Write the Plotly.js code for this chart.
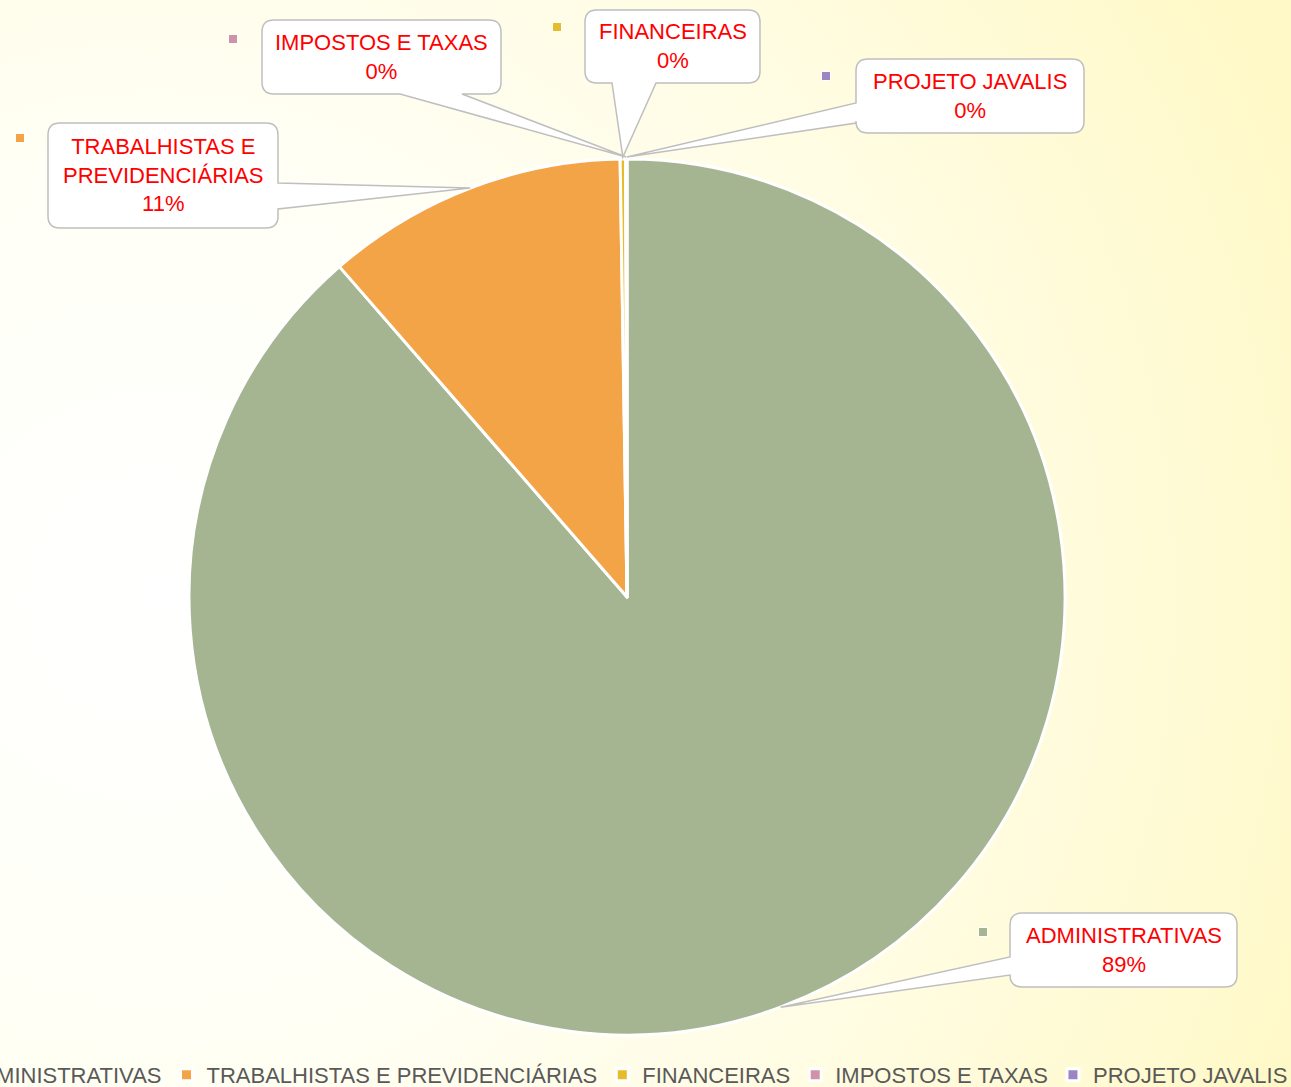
<!DOCTYPE html>
<html>
<head>
<meta charset="utf-8">
<script src="https://cdn.plot.ly/plotly-3.0.1.min.js"></script>
<style>
  html, body { margin:0; padding:0; }
  body {
    width:1291px; height:1087px; overflow:hidden; position:relative;
    background: radial-gradient(ellipse 95% 110% at 12% 55%, #ffffff 0%, #fffff6 35%, #fffce0 70%, #fff9c8 100%);
  }
  #chart { position:absolute; left:-100px; top:0; width:1491px; height:1087px; }
</style>
</head>
<body>
<div id="chart"></div>
<script>
// ---- data ----
const categories = ["ADMINISTRATIVAS", "TRABALHISTAS E PREVIDENCIÁRIAS", "FINANCEIRAS", "IMPOSTOS E TAXAS", "PROJETO JAVALIS"];
const labelText = ["ADMINISTRATIVAS", "TRABALHISTAS E<br>PREVIDENCIÁRIAS", "FINANCEIRAS", "IMPOSTOS E TAXAS", "PROJETO JAVALIS"];
const values = [88.6, 11.15, 0.2, 0.04, 0.01];
const colors = ["#A5B592", "#F3A447", "#E7BC29", "#D092A7", "#9C85C0"];

// ---- layout geometry (window pixels) ----
const OFF = 100;               // plot div extends 100px left of the window
const W = 1291 + 2 * OFF, H = 1087;
const cx = 627, cy = 597, R = 438;
const boxes = [
  {x0:1010, y0:913, x1:1237, y1:987, side:"left",   t1:957, t2:975, kx:983, ky:932, tipOut:0},
  {x0:48,   y0:123, x1:278,  y1:228, side:"right",  t1:183, t2:209, kx:20,  ky:138, tipOut:0},
  {x0:585,  y0:10,  x1:760,  y1:83,  side:"bottom", t1:612, t2:656, kx:557, ky:27,  tipOut:2},
  {x0:262,  y0:20,  x1:501,  y1:94,  side:"bottom", t1:400, t2:462, kx:233, ky:39,  tipOut:2},
  {x0:856,  y0:59,  x1:1084, y1:133, side:"left",   t1:103, t2:123, kx:826, ky:76,  tipOut:2}
];

const px = x => (x + OFF) / W;
const py = y => 1 - y / H;
const P = (x, y) => px(x).toFixed(5) + "," + py(y).toFixed(5);

const total = values.reduce((a, b) => a + b, 0);
let cum = 0;
const tips = values.map((v, i) => {
  const mid = (cum + v / 2) / total * 2 * Math.PI;
  cum += v;
  const r = R + boxes[i].tipOut;
  return [cx + r * Math.sin(mid), cy - r * Math.cos(mid)];
});

function bubblePath(b, tip) {
  const r = 12;
  const {x0, y0, x1, y1} = b;
  let d = "M" + P(x0 + r, y0) + " L" + P(x1 - r, y0) + " Q" + P(x1, y0) + " " + P(x1, y0 + r);
  if (b.side === "right") d += " L" + P(x1, b.t1) + " L" + P(tip[0], tip[1]) + " L" + P(x1, b.t2);
  d += " L" + P(x1, y1 - r) + " Q" + P(x1, y1) + " " + P(x1 - r, y1);
  if (b.side === "bottom") d += " L" + P(b.t2, y1) + " L" + P(tip[0], tip[1]) + " L" + P(b.t1, y1);
  d += " L" + P(x0 + r, y1) + " Q" + P(x0, y1) + " " + P(x0, y1 - r);
  if (b.side === "left") d += " L" + P(x0, b.t2) + " L" + P(tip[0], tip[1]) + " L" + P(x0, b.t1);
  d += " L" + P(x0, y0 + r) + " Q" + P(x0, y0) + " " + P(x0 + r, y0) + " Z";
  return d;
}

const shapes = [];
const annotations = [];
boxes.forEach((b, i) => {
  shapes.push({
    type: "path", xref: "paper", yref: "paper", layer: "above",
    path: bubblePath(b, tips[i]),
    fillcolor: "#ffffff", line: {color: "#BFBFBF", width: 1.5}
  });
  shapes.push({
    type: "rect", xref: "paper", yref: "paper", layer: "above",
    x0: px(b.kx - 4.5), x1: px(b.kx + 4.5), y0: py(b.ky + 4.5), y1: py(b.ky - 4.5),
    fillcolor: colors[i], line: {color: "#ffffff", width: 1}
  });
  const pct = Math.round(values[i] / total * 100);
  annotations.push({
    xref: "paper", yref: "paper",
    x: px((b.x0 + b.x1) / 2), y: py((b.y0 + b.y1) / 2),
    xanchor: "center", yanchor: "middle",
    text: labelText[i] + "<br>" + pct + "%",
    showarrow: false,
    font: {family: "Liberation Sans, Arial, sans-serif", size: 22, color: "#FF0000"}
  });
});

const trace = {
  type: "pie",
  labels: categories,
  values: values,
  sort: false,
  direction: "clockwise",
  rotation: 0,
  marker: {colors: colors, line: {color: "#ffffff", width: 3}},
  textinfo: "none",
  hoverinfo: "label+percent",
  domain: {x: [px(cx - R), px(cx + R)], y: [py(cy + R), py(cy - R)]}
};

const layout = {
  width: W, height: H,
  margin: {l: 0, r: 0, t: 0, b: 0, autoexpand: false},
  paper_bgcolor: "rgba(0,0,0,0)",
  plot_bgcolor: "rgba(0,0,0,0)",
  showlegend: true,
  legend: {
    orientation: "h",
    x: px(609), xanchor: "center",
    y: py(1075), yanchor: "middle",
    font: {family: "Liberation Sans, Arial, sans-serif", size: 22, color: "#595959"},
    bgcolor: "rgba(0,0,0,0)"
  },
  shapes: shapes,
  annotations: annotations
};

Plotly.newPlot("chart", [trace], layout, {displayModeBar: false});
</script>
</body>
</html>
